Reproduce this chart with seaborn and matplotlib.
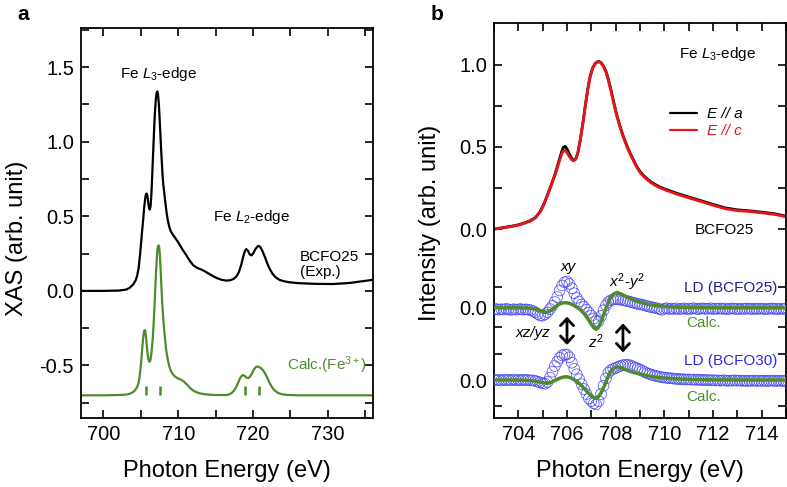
import numpy as np
import seaborn as sns
import matplotlib.pyplot as plt
from matplotlib.ticker import MultipleLocator

sns.set_style('ticks')
plt.rcParams['font.family'] = ['Liberation Sans', 'DejaVu Sans']
plt.rcParams['mathtext.fontset'] = 'custom'
plt.rcParams['mathtext.rm'] = 'Liberation Sans'
plt.rcParams['mathtext.it'] = 'Liberation Sans:italic'
plt.rcParams['axes.unicode_minus'] = False
for key in ['text.color', 'axes.labelcolor', 'xtick.color', 'ytick.color', 'axes.edgecolor']:
    plt.rcParams[key] = 'black'

# ---- panel a : XAS ----
exp_energy = [697.0, 700.0, 702.0, 703.0, 703.5, 704.0, 704.3, 704.5, 704.7, 704.85,
              705.0, 705.15, 705.3, 705.45, 705.6, 705.7, 705.8, 705.9, 706.0, 706.1,
              706.2, 706.3, 706.4, 706.5, 706.6, 706.7, 706.8, 706.9, 707.0, 707.1,
              707.2, 707.3, 707.4, 707.5, 707.6, 707.7, 707.8, 707.9, 708.0, 708.15,
              708.3, 708.45, 708.6, 708.8, 709.0, 709.3, 709.6, 710.0, 710.3, 710.6,
              711.0, 711.5, 712.0, 712.5, 713.0, 713.5, 714.0, 714.6, 715.2, 715.8,
              716.4, 716.9, 717.4, 717.8, 718.1, 718.4, 718.7, 718.9, 719.08, 719.3,
              719.55, 719.8, 720.0, 720.3, 720.6, 720.8, 721.0, 721.3, 721.6, 721.9,
              722.2, 722.6, 723.0, 723.5, 724.0, 724.8, 726.0, 728.4, 730.7, 732.9,
              736.0]
exp_xas = [0.000, 0.000, 0.002, 0.008, 0.020, 0.045, 0.070, 0.100, 0.150, 0.220,
           0.300, 0.390, 0.470, 0.560, 0.625, 0.650, 0.652, 0.630, 0.590, 0.555,
           0.545, 0.565, 0.640, 0.745, 0.870, 0.990, 1.110, 1.210, 1.280, 1.325,
           1.337, 1.315, 1.260, 1.170, 1.065, 0.960, 0.870, 0.780, 0.715, 0.650,
           0.583, 0.522, 0.475, 0.430, 0.400, 0.375, 0.355, 0.325, 0.300, 0.275,
           0.245, 0.205, 0.172, 0.155, 0.145, 0.133, 0.118, 0.100, 0.085, 0.074,
           0.069, 0.071, 0.080, 0.098, 0.125, 0.170, 0.232, 0.265, 0.280, 0.270,
           0.245, 0.238, 0.250, 0.278, 0.298, 0.301, 0.292, 0.262, 0.225, 0.185,
           0.150, 0.115, 0.092, 0.075, 0.066, 0.058, 0.052, 0.047, 0.046, 0.053,
           0.074]

calc_a_energy = [697.0, 700.0, 702.0, 703.0, 703.5, 703.9, 704.2, 704.5, 704.7, 704.85,
                 705.0, 705.1, 705.2, 705.3, 705.4, 705.5, 705.6, 705.7, 705.8, 705.9,
                 706.0, 706.1, 706.2, 706.3, 706.4, 706.5, 706.6, 706.7, 706.8, 706.9,
                 707.0, 707.1, 707.2, 707.3, 707.38, 707.45, 707.55, 707.65, 707.75, 707.85,
                 707.95, 708.1, 708.25, 708.4, 708.6, 708.8, 709.0, 709.3, 709.6, 710.0,
                 710.4, 710.8, 711.2, 711.6, 712.0, 712.5, 713.0, 713.7, 715.0, 716.5,
                 716.9, 717.2, 717.5, 717.8, 718.05, 718.3, 718.55, 718.7, 718.9, 719.1,
                 719.35, 719.6, 719.85, 720.1, 720.35, 720.55, 720.8, 721.05, 721.3, 721.55,
                 721.8, 722.05, 722.3, 722.6, 722.9, 723.3, 723.8, 724.5, 726.0, 736.0]
calc_a_xas = [-0.700, -0.700, -0.698, -0.695, -0.690, -0.680, -0.668, -0.645, -0.615, -0.570,
              -0.500, -0.440, -0.380, -0.320, -0.280, -0.262, -0.270, -0.310, -0.370, -0.420,
              -0.455, -0.472, -0.475, -0.460, -0.425, -0.375, -0.310, -0.230, -0.130, -0.020,
              0.090, 0.190, 0.265, 0.300, 0.305, 0.295, 0.240, 0.140, 0.030, -0.070,
              -0.150, -0.250, -0.330, -0.400, -0.460, -0.505, -0.535, -0.560, -0.576, -0.588,
              -0.596, -0.610, -0.630, -0.652, -0.668, -0.680, -0.688, -0.694, -0.698, -0.698,
              -0.692, -0.682, -0.665, -0.640, -0.610, -0.582, -0.566, -0.565, -0.570, -0.580,
              -0.585, -0.575, -0.555, -0.528, -0.512, -0.507, -0.510, -0.518, -0.530, -0.548,
              -0.572, -0.600, -0.625, -0.650, -0.668, -0.683, -0.692, -0.697, -0.700, -0.700]
stick_energy = [705.7, 707.55, 718.95, 720.75]

# ---- panel b : polarised XAS and linear dichroism ----
pol_energy = [703.0, 703.3, 703.7, 704.0, 704.3, 704.5, 704.7, 704.9, 705.05, 705.2,
              705.35, 705.5, 705.6, 705.7, 705.78, 705.85, 705.92, 706.0, 706.1, 706.2,
              706.28, 706.36, 706.45, 706.55, 706.65, 706.75, 706.85, 706.95, 707.05, 707.15,
              707.25, 707.32, 707.4, 707.5, 707.6, 707.7, 707.8, 707.9, 708.0, 708.1,
              708.2, 708.3, 708.4, 708.5, 708.6, 708.7, 708.8, 708.9, 709.0, 709.15,
              709.3, 709.45, 709.6, 709.8, 710.0, 710.5, 711.0, 711.5, 712.0, 712.5,
              713.0, 713.5, 714.0, 714.5, 715.0]
e_par_c = [0.000, 0.006, 0.015, 0.024, 0.038, 0.050, 0.068, 0.105, 0.150, 0.205,
           0.265, 0.325, 0.370, 0.420, 0.455, 0.475, 0.478, 0.465, 0.440, 0.420,
           0.415, 0.425, 0.465, 0.545, 0.640, 0.745, 0.845, 0.925, 0.975, 1.003,
           1.015, 1.016, 1.008, 0.988, 0.955, 0.905, 0.845, 0.780, 0.715, 0.660,
           0.610, 0.565, 0.525, 0.488, 0.455, 0.425, 0.395, 0.368, 0.345, 0.320,
           0.300, 0.282, 0.268, 0.252, 0.240, 0.213, 0.190, 0.168, 0.145, 0.124,
           0.112, 0.107, 0.099, 0.090, 0.075]
e_par_a = [0.000, 0.007, 0.017, 0.026, 0.040, 0.052, 0.070, 0.107, 0.152, 0.208,
           0.268, 0.330, 0.380, 0.430, 0.470, 0.497, 0.503, 0.488, 0.455, 0.428,
           0.418, 0.426, 0.466, 0.546, 0.641, 0.747, 0.847, 0.927, 0.977, 1.005,
           1.017, 1.018, 1.011, 0.991, 0.959, 0.910, 0.850, 0.785, 0.720, 0.665,
           0.615, 0.570, 0.530, 0.493, 0.460, 0.430, 0.400, 0.373, 0.350, 0.325,
           0.305, 0.287, 0.273, 0.257, 0.245, 0.218, 0.195, 0.173, 0.150, 0.129,
           0.117, 0.111, 0.103, 0.094, 0.079]

ld_energy = np.round(np.arange(703.0, 715.05, 0.1), 1)
ld_bcfo25 = [-0.010, -0.008, -0.012, -0.009, -0.011, -0.007, -0.010, -0.013, -0.009, -0.011,
             -0.010, -0.008, -0.012, -0.010, -0.011, -0.015, -0.020, -0.028, -0.038, -0.047,
             -0.048, -0.040, -0.028, -0.008, 0.012, 0.035, 0.065, 0.105, 0.135, 0.155,
             0.160, 0.145, 0.118, 0.088, 0.060, 0.038, 0.020, 0.005, -0.012, -0.030,
             -0.048, -0.065, -0.080, -0.082, -0.050, -0.015, 0.015, 0.035, 0.045, 0.050,
             0.052, 0.051, 0.049, 0.046, 0.043, 0.040, 0.036, 0.032, 0.028, 0.024,
             0.021, 0.018, 0.014, 0.010, 0.006, 0.003, 0.000, -0.004, -0.008, -0.012,
             -0.006, -0.003, -0.008, -0.005, -0.007, -0.004, -0.009, -0.006, -0.004, -0.008,
             -0.005, -0.007, -0.003, -0.006, -0.009, -0.005, -0.004, -0.007, -0.006, -0.003,
             -0.008, -0.005, -0.006, -0.004, -0.007, -0.005, -0.009, -0.006, -0.004, -0.007,
             -0.006, -0.008, -0.005, -0.007, -0.004, -0.006, -0.008, -0.005, -0.007, -0.006,
             -0.005, -0.007, -0.009, -0.006, -0.004, -0.007, -0.006, -0.008, -0.005, -0.007,
             -0.006]
ld_bcfo30 = [0.003, -0.002, 0.001, -0.003, 0.002, -0.001, 0.000, -0.002, 0.003, -0.001,
             0.001, -0.002, 0.002, -0.001, 0.000, -0.003, -0.002, -0.006, -0.010, -0.015,
             -0.020, -0.022, -0.012, 0.015, 0.050, 0.085, 0.112, 0.135, 0.150, 0.155,
             0.155, 0.138, 0.105, 0.068, 0.035, 0.005, -0.025, -0.055, -0.085, -0.112,
             -0.128, -0.142, -0.148, -0.128, -0.085, -0.035, 0.010, 0.045, 0.060, 0.068,
             0.073, 0.080, 0.086, 0.090, 0.092, 0.092, 0.089, 0.083, 0.076, 0.070,
             0.063, 0.056, 0.048, 0.041, 0.036, 0.031, 0.027, 0.023, 0.020, 0.017,
             0.015, 0.013, 0.011, 0.010, 0.008, 0.007, 0.006, 0.005, 0.004, 0.003,
             0.004, 0.002, 0.003, 0.001, 0.002, 0.000, 0.001, -0.001, 0.000, -0.002,
             -0.001, -0.003, -0.002, -0.004, -0.002, -0.003, -0.005, -0.003, -0.004, -0.002,
             -0.004, -0.003, -0.005, -0.004, -0.006, -0.004, -0.005, -0.003, -0.006, -0.004,
             -0.005, -0.004, -0.006, -0.005, -0.003, -0.005, -0.006, -0.004, -0.005, -0.006,
             -0.005]

calc_b_energy = [703.0, 704.0, 704.5, 704.7, 704.9, 705.05, 705.2, 705.35, 705.5, 705.65,
                 705.8, 705.95, 706.1, 706.25, 706.4, 706.55, 706.7, 706.85, 707.0, 707.1,
                 707.2, 707.3, 707.4, 707.5, 707.6, 707.7, 707.8, 707.9, 708.05, 708.2,
                 708.4, 708.6, 708.8, 709.0, 709.3, 709.6, 710.0, 710.5, 711.0, 712.0,
                 713.0, 715.0]
calc_bcfo25 = [0.0, 0.0, -0.003, -0.008, -0.018, -0.027, -0.028, -0.015, 0.003, 0.020,
               0.029, 0.031, 0.027, 0.017, 0.004, -0.012, -0.034, -0.065, -0.100, -0.121,
               -0.131, -0.118, -0.085, -0.045, -0.005, 0.035, 0.063, 0.082, 0.093, 0.085,
               0.070, 0.055, 0.044, 0.034, 0.022, 0.014, 0.008, 0.004, 0.002, 0.0,
               0.0, 0.0]
calc_bcfo30 = [0.0, 0.0, -0.003, -0.007, -0.013, -0.018, -0.020, -0.014, -0.003, 0.008,
               0.016, 0.020, 0.016, 0.006, -0.008, -0.027, -0.050, -0.075, -0.096, -0.107,
               -0.111, -0.100, -0.078, -0.048, -0.012, 0.025, 0.052, 0.070, 0.080, 0.076,
               0.063, 0.052, 0.044, 0.036, 0.026, 0.018, 0.012, 0.007, 0.004, 0.001,
               0.0, 0.0]

base25 = -0.478
base30 = -0.917

green = '#4e8b2c'
blue = '#4646f5'


def style_axis(ax):
    ax.tick_params(which='both', direction='in', top=True, right=True,
                   length=6, width=1.2, labelsize=14.5, pad=5)
    for sp in ax.spines.values():
        sp.set_linewidth(1.3)


fig = plt.figure(figsize=(7.87, 4.87), dpi=100)

# panel a
ax = fig.add_axes([0.1029, 0.1423, 0.3707, 0.7996])
sns.lineplot(x=exp_energy, y=exp_xas, ax=ax, color='black', lw=1.6, sort=False)
sns.lineplot(x=calc_a_energy, y=calc_a_xas, ax=ax, color=green, lw=1.6, sort=False)
ax.vlines(stick_energy, -0.70, -0.635, color=green, lw=1.8)
ax.set_xlim(697, 736)
ax.set_ylim(-0.85, 1.76)
ax.xaxis.set_major_locator(MultipleLocator(10))
ax.xaxis.set_minor_locator(MultipleLocator(5))
ax.yaxis.set_major_locator(MultipleLocator(0.5))
ax.yaxis.set_minor_locator(MultipleLocator(0.25))
style_axis(ax)
ax.set_xlabel('Photon Energy (eV)', fontsize=17)
ax.set_ylabel('XAS (arb. unit)', fontsize=17)
ax.xaxis.set_label_coords(0.5, -0.108)
ax.yaxis.set_label_coords(-0.183, 0.46)
ax.text(707.4, 1.455, 'Fe $L_3$-edge', fontsize=11, ha='center', va='center')
ax.text(719.8, 0.493, 'Fe $L_2$-edge', fontsize=11, ha='center', va='center')
ax.text(726.3, 0.177, 'BCFO25\n(Exp.)', fontsize=11, ha='left', va='center',
        linespacing=1.15)
ax.text(724.6, -0.50, 'Calc.(Fe$^{3+}$)', fontsize=11, ha='left', va='center',
        color=green)
fig.text(23 / 787, 1 - 15 / 487, 'a', fontsize=15, fontweight='bold',
         ha='center', va='center')

# panel b
bx = fig.add_axes([0.6277, 0.1423, 0.371, 0.8097])
sns.lineplot(x=pol_energy, y=e_par_a, ax=bx, color='black', lw=2.0, sort=False,
             label='E // a')
sns.lineplot(x=pol_energy, y=e_par_c, ax=bx, color='#e8141a', lw=2.0, sort=False,
             label='E // c')
sns.scatterplot(x=ld_energy, y=np.array(ld_bcfo25) + base25, ax=bx, marker='o',
                s=60, facecolors='none', edgecolor=blue, linewidth=0.5, zorder=3)
sns.scatterplot(x=ld_energy, y=np.array(ld_bcfo30) + base30, ax=bx, marker='o',
                s=60, facecolors='none', edgecolor=blue, linewidth=0.5, zorder=3)
sns.lineplot(x=calc_b_energy, y=np.array(calc_bcfo25) + base25, ax=bx, color=green,
             lw=2.5, sort=False, zorder=4)
sns.lineplot(x=calc_b_energy, y=np.array(calc_bcfo30) + base30, ax=bx, color=green,
             lw=2.5, sort=False, zorder=4)
bx.set_xlim(703, 715)
bx.set_ylim(-1.146, 1.25)
bx.xaxis.set_major_locator(MultipleLocator(2))
bx.xaxis.set_minor_locator(MultipleLocator(1))
bx.set_yticks([1.0, 0.5, 0.0, base25, base30], ['1.0', '0.5', '0.0', '0.0', '0.0'])
bx.set_yticks([0.75, 0.25, -0.352, -0.597, -0.759, -1.073], minor=True)
style_axis(bx)
bx.set_xlabel('Photon Energy (eV)', fontsize=17)
bx.set_ylabel('Intensity (arb. unit)', fontsize=17)
bx.xaxis.set_label_coords(0.5, -0.108)
bx.yaxis.set_label_coords(-0.182, 0.495)
bx.legend(loc='upper left', bbox_to_anchor=(0.603, 0.787), frameon=False,
          labelcolor='linecolor', prop={'style': 'italic', 'size': 11},
          handlelength=1.75, handletextpad=0.65, labelspacing=0.2,
          borderaxespad=0, borderpad=0)
for line in bx.get_legend().get_lines():
    line.set_linewidth(1.6)
bx.text(712.2, 1.063, 'Fe $L_3$-edge', fontsize=11, ha='center', va='center')
bx.text(712.45, -0.005, 'BCFO25', fontsize=11, ha='center', va='center')
bx.text(714.65, -0.356, 'LD (BCFO25)', fontsize=11, ha='right', va='center',
        color='#1e1e90')
bx.text(710.9, -0.569, 'Calc.', fontsize=11, ha='left', va='center', color=green)
bx.text(714.65, -0.80, 'LD (BCFO30)', fontsize=11, ha='right', va='center',
        color='#2a2ae6')
bx.text(710.9, -1.018, 'Calc.', fontsize=11, ha='left', va='center', color=green)
bx.text(706.05, -0.229, 'xy', fontsize=11, style='italic', ha='center', va='center')
bx.text(708.46, -0.324, '$x^2$-$y^2$', fontsize=11, ha='center', va='center')
bx.text(704.6, -0.63, 'xz/yz', fontsize=11, style='italic', ha='center', va='center')
bx.text(707.2, -0.684, '$z^2$', fontsize=11, ha='center', va='center')
for xa, y0, y1 in [(706.0, -0.532, -0.704), (708.3, -0.573, -0.749)]:
    bx.annotate('', xy=(xa, y1), xytext=(xa, y0),
                arrowprops=dict(arrowstyle='<->,head_length=0.5,head_width=0.47',
                                lw=2.0, color='black', mutation_scale=10,
                                shrinkA=0, shrinkB=0))
fig.text(436.7 / 787, 1 - 15 / 487, 'b', fontsize=15, fontweight='bold',
         ha='center', va='center')

fig.savefig('out.png', dpi=100)
